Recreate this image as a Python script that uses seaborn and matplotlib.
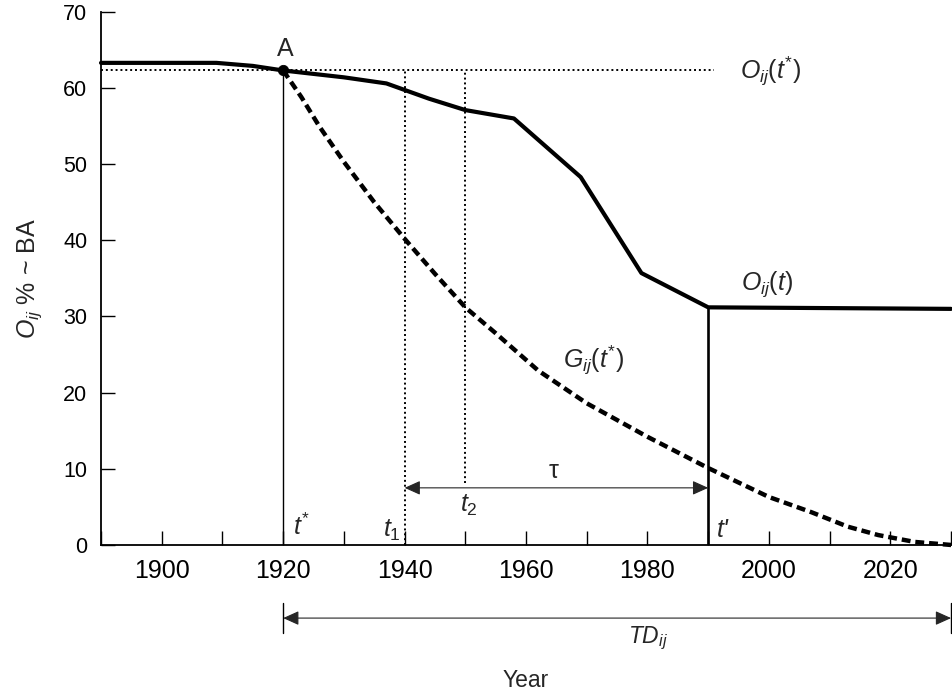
import matplotlib
matplotlib.use("Agg")
import matplotlib.pyplot as plt
import seaborn as sns
import pandas as pd

# ---- data ----
obs_years = [1890, 1909, 1915, 1920, 1930, 1937, 1944, 1950, 1958, 1969, 1979, 1990, 2030]
obs_vals = [63.3, 63.3, 62.9, 62.3, 61.4, 60.6, 58.6, 57.1, 56.0, 48.3, 35.7, 31.2, 31.0]

g_years = [1920, 1923, 1926, 1930, 1935, 1940, 1945, 1950, 1955, 1962, 1970, 1980, 1990,
           2000, 2007, 2013, 2018, 2024, 2030]
g_vals = [62.3, 58.8, 54.9, 50.3, 45.0, 40.2, 35.6, 31.2, 27.8, 22.9, 18.6, 14.2, 10.1,
          6.3, 4.3, 2.4, 1.3, 0.4, 0.0]

t_star, t1, t2, t_prime, t_end = 1920, 1940, 1950, 1990, 2030
o_tstar = 62.3
o_tprime = 31.2
tau_level = 7.5
t2_bottom = 8.1
td_level = -9.6

x_ticks = list(range(1890, 2031, 10))
x_labels = ["" if y % 20 else str(y) for y in x_ticks]
y_ticks = [0, 10, 20, 30, 40, 50, 60, 70]

sns.set_theme(style="ticks")
plt.rcParams["font.family"] = ["Liberation Sans", "DejaVu Sans"]
plt.rcParams["mathtext.fontset"] = "custom"
plt.rcParams["mathtext.rm"] = "Liberation Sans"
plt.rcParams["mathtext.it"] = "Liberation Sans:italic"
plt.rcParams["mathtext.bf"] = "Liberation Sans:bold"

fig = plt.figure(figsize=(9.53, 6.96), dpi=100)
ax = fig.add_axes([0.106, 0.217, 0.892, 0.766])

obs_df = pd.DataFrame({"year": obs_years, "val": obs_vals})
g_df = pd.DataFrame({"year": g_years, "val": g_vals})

dot_ls = (0, (1, 1.5))
# dotted reference lines
ax.plot([1890, 1991], [o_tstar, o_tstar], color="black", lw=1.4, linestyle=dot_ls)
ax.plot([t1, t1], [0, o_tstar], color="black", lw=1.4, linestyle=dot_ls)
ax.plot([t2, t2], [t2_bottom, o_tstar], color="black", lw=1.4, linestyle=dot_ls)

# thin solid at t*
ax.plot([t_star, t_star], [0, o_tstar], color="black", lw=1.0)
# vertical at t'
ax.plot([t_prime, t_prime], [0, o_tprime], color="black", lw=1.9)

sns.lineplot(data=obs_df, x="year", y="val", ax=ax, color="black", lw=3.0,
             estimator=None, sort=False, clip_on=False)
sns.lineplot(data=g_df, x="year", y="val", ax=ax, color="black", lw=3.2,
             estimator=None, sort=False, clip_on=False)
ax.lines[-1].set_dashes((2, 1.1))
ax.lines[-1].set_dash_capstyle("butt")

sns.scatterplot(x=[t_star], y=[o_tstar], ax=ax, color="black", s=55, zorder=5,
                edgecolor="black", clip_on=False)

# arrows
arrow_kw = dict(arrowstyle="<|-|>,head_length=0.8,head_width=0.36", color="0.15",
                lw=0.8, shrinkA=0, shrinkB=0, mutation_scale=12)
ax.annotate("", xy=(t_prime, tau_level), xytext=(t1, tau_level),
            arrowprops=arrow_kw, annotation_clip=False)
ax.annotate("", xy=(t_end, td_level), xytext=(t_star, td_level),
            arrowprops=arrow_kw, annotation_clip=False)
for xb in (t_star, t_end):
    ax.plot([xb, xb], [td_level + 2.0, td_level - 2.0], color="black", lw=1.0, clip_on=False)

# text labels
fs = 18
ax.text(t_star + 0.3, 63.6, "A", fontsize=fs, ha="center", va="bottom")
ax.text(1995.3, 61.2, r"$O_{ij}(t^{*})$", fontsize=fs, ha="left", va="baseline")
ax.text(1995.4, 33.5, r"$O_{ij}(t)$", fontsize=fs, ha="left", va="baseline")
ax.text(1966.1, 23.2, r"$G_{ij}(t^{*})$", fontsize=fs, ha="left", va="baseline")
ax.text(1921.6, 1.3, r"$t^{*}$", fontsize=fs, ha="left", va="baseline")
ax.text(1936.5, 1.05, r"$t_1$", fontsize=fs, ha="left", va="baseline")
ax.text(1949.1, 4.3, r"$t_2$", fontsize=fs, ha="left", va="baseline")
ax.text(1991.5, 1.0, "t'", fontsize=fs, fontstyle="italic", ha="left", va="baseline")
ax.text(1964.5, 8.8, "τ", fontsize=fs, ha="center", va="baseline")
ax.text(1980.1, -12.9, r"$TD_{ij}$", fontsize=16.5, ha="center", va="baseline", clip_on=False)

# axes
ax.set_xlim(1890, 2030)
ax.set_ylim(0, 70)
ax.set_xticks(x_ticks)
ax.set_xticklabels(x_labels)
ax.set_yticks(y_ticks)
ax.tick_params(axis="x", direction="in", length=10, width=1.0, pad=10, labelsize=18)
ax.tick_params(axis="y", direction="in", length=10, width=1.0, pad=10, labelsize=15.5)
ax.set_xlabel("Year", fontsize=16.5, labelpad=62)
ax.set_ylabel(r"$O_{ij}$ % ~ BA", fontsize=18, labelpad=14)
sns.despine(ax=ax)
for s in ("left", "bottom"):
    ax.spines[s].set_linewidth(1.3)
    ax.spines[s].set_color("black")
ax.tick_params(colors="black")

fig.savefig("out.png", dpi=100)
